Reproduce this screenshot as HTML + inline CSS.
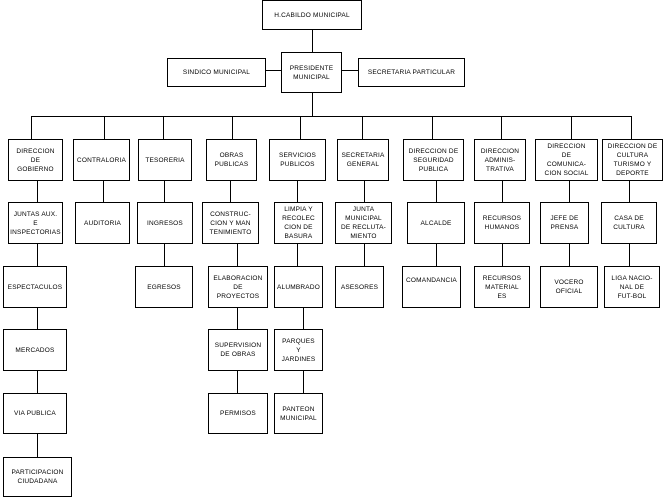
<!DOCTYPE html>
<html><head><meta charset="utf-8">
<style>
html,body{margin:0;padding:0;background:#fff;}
body{width:664px;height:498px;position:relative;overflow:hidden;font-family:"Liberation Sans","DejaVu Sans",sans-serif;}
.b{position:absolute;border:1px solid #000;box-sizing:border-box;display:flex;align-items:center;justify-content:center;text-align:center;font-size:6.5px;line-height:9px;color:#000;background:#fff;letter-spacing:0.2px;}
.h{position:absolute;height:1px;background:#000;}
.v{position:absolute;width:1px;background:#000;}
</style></head><body>
<!-- lines -->
<div class="v" style="left:312px;top:29px;height:23px"></div>
<div class="h" style="left:266px;top:70px;width:15px"></div>
<div class="h" style="left:342px;top:70px;width:16px"></div>
<div class="v" style="left:312px;top:92px;height:24px"></div>
<div class="h" style="left:31px;top:116px;width:601px"></div>
<div class="v" style="left:31px;top:116px;height:23px"></div>
<div class="v" style="left:104px;top:116px;height:23px"></div>
<div class="v" style="left:163px;top:116px;height:23px"></div>
<div class="v" style="left:232px;top:116px;height:23px"></div>
<div class="v" style="left:300px;top:116px;height:23px"></div>
<div class="v" style="left:362px;top:116px;height:23px"></div>
<div class="v" style="left:432px;top:116px;height:23px"></div>
<div class="v" style="left:501px;top:116px;height:23px"></div>
<div class="v" style="left:571px;top:116px;height:23px"></div>
<div class="v" style="left:631px;top:116px;height:23px"></div>
<!-- col verticals -->
<div class="v" style="left:37px;top:180px;height:277px"></div>
<div class="v" style="left:103px;top:180px;height:22px"></div>
<div class="v" style="left:164px;top:180px;height:86px"></div>
<div class="v" style="left:230px;top:180px;height:22px"></div>
<div class="v" style="left:237px;top:243px;height:150px"></div>
<div class="v" style="left:297px;top:180px;height:86px"></div>
<div class="v" style="left:303px;top:307px;height:86px"></div>
<div class="v" style="left:364px;top:180px;height:86px"></div>
<div class="v" style="left:436px;top:180px;height:86px"></div>
<div class="v" style="left:502px;top:180px;height:86px"></div>
<div class="v" style="left:569px;top:180px;height:86px"></div>
<div class="v" style="left:629px;top:180px;height:86px"></div>
<!-- top boxes -->
<div class="b" style="left:262px;top:0;width:100px;height:30px">H.CABILDO MUNICIPAL</div>
<div class="b" style="left:281px;top:52px;width:61px;height:41px">PRESIDENTE<br>MUNICIPAL</div>
<div class="b" style="left:167px;top:58px;width:99px;height:29px">SINDICO MUNICIPAL</div>
<div class="b" style="left:358px;top:58px;width:107px;height:29px">SECRETARIA PARTICULAR</div>
<!-- level 1 -->
<div class="b" style="left:8px;top:139px;width:55px;height:42px">DIRECCION<br>DE<br>GOBIERNO</div>
<div class="b" style="left:73px;top:139px;width:57px;height:42px">CONTRALORIA</div>
<div class="b" style="left:138px;top:139px;width:54px;height:42px">TESORERIA</div>
<div class="b" style="left:206px;top:139px;width:51px;height:42px">OBRAS<br>PUBLICAS</div>
<div class="b" style="left:269px;top:139px;width:57px;height:42px">SERVICIOS<br>PUBLICOS</div>
<div class="b" style="left:337px;top:139px;width:52px;height:42px">SECRETARIA<br>GENERAL</div>
<div class="b" style="left:403px;top:139px;width:61px;height:42px">DIRECCION DE<br>SEGURIDAD<br>PUBLICA</div>
<div class="b" style="left:474px;top:139px;width:52px;height:42px">DIRECCION<br>ADMINIS-<br>TRATIVA</div>
<div class="b" style="left:535px;top:139px;width:63px;height:42px">DIRECCION<br>DE<br>COMUNICA-<br>CION SOCIAL</div>
<div class="b" style="left:602px;top:139px;width:61px;height:42px">DIRECCION DE<br>CULTURA<br>TURISMO Y<br>DEPORTE</div>
<!-- level 2 -->
<div class="b" style="left:8px;top:202px;width:55px;height:42px">JUNTAS AUX.<br>E<br>INSPECTORIAS</div>
<div class="b" style="left:75px;top:202px;width:55px;height:42px">AUDITORIA</div>
<div class="b" style="left:137px;top:202px;width:56px;height:42px">INGRESOS</div>
<div class="b" style="left:202px;top:202px;width:57px;height:42px">CONSTRUC-<br>CION Y MAN<br>TENIMIENTO</div>
<div class="b" style="left:274px;top:202px;width:49px;height:42px">LIMPIA Y<br>RECOLEC<br>CION DE<br>BASURA</div>
<div class="b" style="left:335px;top:202px;width:57px;height:42px">JUNTA<br>MUNICIPAL<br>DE RECLUTA-<br>MIENTO</div>
<div class="b" style="left:407px;top:202px;width:58px;height:42px">ALCALDE</div>
<div class="b" style="left:474px;top:202px;width:56px;height:42px">RECURSOS<br>HUMANOS</div>
<div class="b" style="left:540px;top:202px;width:49px;height:42px">JEFE DE<br>PRENSA</div>
<div class="b" style="left:601px;top:202px;width:56px;height:42px">CASA DE<br>CULTURA</div>
<!-- level 3 -->
<div class="b" style="left:3px;top:266px;width:64px;height:42px">ESPECTACULOS</div>
<div class="b" style="left:135px;top:266px;width:58px;height:42px">EGRESOS</div>
<div class="b" style="left:208px;top:266px;width:60px;height:42px">ELABORACION<br>DE<br>PROYECTOS</div>
<div class="b" style="left:274px;top:266px;width:49px;height:42px">ALUMBRADO</div>
<div class="b" style="left:335px;top:266px;width:49px;height:42px">ASESORES</div>
<div class="b" style="left:402px;top:266px;width:59px;height:42px;align-items:flex-start;padding-top:9px">COMANDANCIA</div>
<div class="b" style="left:474px;top:266px;width:56px;height:42px">RECURSOS<br>MATERIAL<br>ES</div>
<div class="b" style="left:540px;top:266px;width:58px;height:42px">VOCERO<br>OFICIAL</div>
<div class="b" style="left:604px;top:266px;width:56px;height:42px">LIGA NACIO-<br>NAL DE<br>FUT-BOL</div>
<!-- level 4 -->
<div class="b" style="left:3px;top:329px;width:64px;height:42px">MERCADOS</div>
<div class="b" style="left:208px;top:329px;width:60px;height:42px">SUPERVISION<br>DE OBRAS</div>
<div class="b" style="left:274px;top:329px;width:49px;height:42px">PARQUES<br>Y<br>JARDINES</div>
<!-- level 5 -->
<div class="b" style="left:3px;top:393px;width:64px;height:41px">VIA PUBLICA</div>
<div class="b" style="left:208px;top:393px;width:60px;height:41px">PERMISOS</div>
<div class="b" style="left:274px;top:393px;width:49px;height:41px">PANTEON<br>MUNICIPAL</div>
<!-- level 6 -->
<div class="b" style="left:3px;top:457px;width:69px;height:40px">PARTICIPACION<br>CIUDADANA</div>
</body></html>
